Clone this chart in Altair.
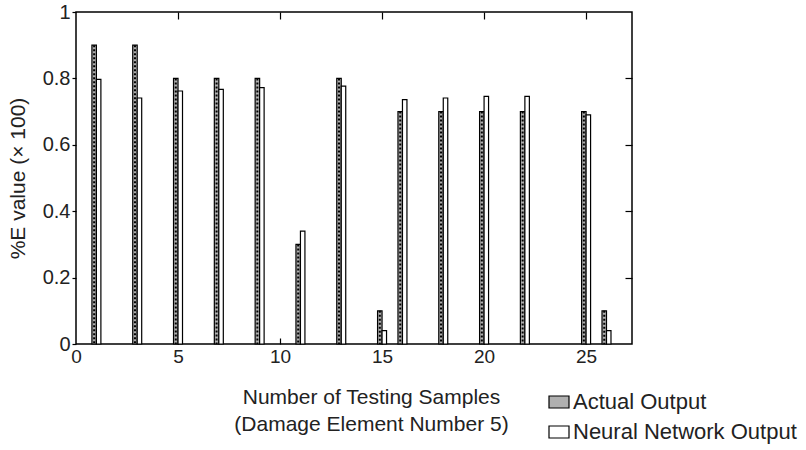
import altair as alt
import pandas as pd

# ---- data ----
samples = [1, 3, 5, 7, 9, 11, 13, 15, 16, 18, 20, 22, 25, 26]
actual_output = [0.9, 0.9, 0.8, 0.8, 0.8, 0.3, 0.8, 0.1, 0.7, 0.7, 0.7, 0.7, 0.7, 0.1]
nn_output = [0.797, 0.741, 0.762, 0.767, 0.772, 0.340, 0.777, 0.040,
             0.736, 0.741, 0.746, 0.746, 0.690, 0.040]
series_names = ["Actual Output", "Neural Network Output"]
x_tick_values = [0, 5, 10, 15, 20, 25]
y_tick_values = [0, 0.2, 0.4, 0.6, 0.8, 1]

n = len(samples)
df = pd.DataFrame({
    "sample": samples + samples,
    "value": actual_output + nn_output,
    "series": [series_names[0]] * n + [series_names[1]] * n,
})

FONT = "Liberation Sans"
TXT = "#222222"
BW = 0.22

xscale = alt.Scale(domain=[0, 27.25], nice=False, zero=False)
yscale = alt.Scale(domain=[0, 1], nice=False)
fill_scale = alt.Scale(domain=series_names, range=["#b0b0b0", "#ffffff"])

legend = alt.Legend(
    orient="none", legendX=472, legendY=379, title=None,
    symbolType="M-1,-0.6L1,-0.6L1,0.6L-1,0.6Z", symbolSize=400,
    symbolStrokeColor="black", symbolStrokeWidth=1.2, symbolOpacity=1,
    labelFontSize=22, labelFont=FONT, labelColor=TXT, labelOffset=3,
    labelLimit=400, rowPadding=8, padding=0,
)

axis_bottom = alt.Axis(
    orient="bottom", values=x_tick_values, format="d", labelFlush=False,
    labelFontSize=19, labelFont=FONT, labelColor=TXT, labelPadding=3,
    ticks=False, domain=False, grid=False,
    title=["Number of Testing Samples", "(Damage Element Number 5)"],
    titleFont=FONT, titleFontSize=21, titleFontWeight="normal", titleColor=TXT,
    titleX=295, titleY=59, titleAlign="center", titleBaseline="alphabetic",
    titleLineHeight=27,
)
axis_left = alt.Axis(
    orient="left", values=y_tick_values, format="~g", labelFlush=False,
    labelFontSize=20, labelFont=FONT, labelColor=TXT, labelPadding=2,
    tickSize=4, tickColor="black", tickWidth=1.2, domain=False, grid=False,
    title="%E value (× 100)", titleFont=FONT, titleFontSize=21,
    titleFontWeight="normal", titleColor=TXT,
    titleX=-58, titleY=166, titleAlign="center", titleBaseline="middle",
)
axis_top = alt.Axis(
    orient="top", values=[5, 10, 15, 20, 25], labels=False, tickSize=7,
    offset=-7, domain=False, grid=False, title=None, tickColor="black", tickWidth=1.2,
)
axis_right = alt.Axis(
    orient="right", values=[0.2, 0.4, 0.6, 0.8], labels=False, tickSize=7,
    offset=-7, domain=False, grid=False, title=None, tickColor="black", tickWidth=1.2,
)
axis_bottom_ticks = alt.Axis(
    orient="bottom", values=[5, 10, 15, 20, 25], labels=False, tickSize=6,
    offset=-6, domain=False, grid=False, title=None, tickColor="black", tickWidth=1.2,
)

base = alt.Chart(df)

actual_bars = base.transform_filter(
    alt.datum.series == series_names[0]
).transform_calculate(
    x0=f"datum.sample - {BW}", x1="datum.sample"
).mark_bar(stroke="black", strokeWidth=1.2).encode(
    x=alt.X("x0:Q", scale=xscale, axis=axis_bottom),
    x2="x1:Q",
    y=alt.Y("value:Q", scale=yscale, axis=axis_left),
    y2=alt.datum(0),
    fill=alt.Fill("series:N", scale=fill_scale, legend=legend),
)

nn_bars = base.transform_filter(
    alt.datum.series == series_names[1]
).transform_calculate(
    x0="datum.sample", x1=f"datum.sample + {BW}"
).mark_bar(stroke="black", strokeWidth=1.2).encode(
    x=alt.X("x0:Q", scale=xscale, axis=axis_top),
    x2="x1:Q",
    y=alt.Y("value:Q", scale=yscale, axis=axis_right),
    y2=alt.datum(0),
    fill=alt.Fill("series:N", scale=fill_scale, legend=legend),
)

hatch = base.transform_filter(
    alt.datum.series == series_names[0]
).transform_calculate(
    xc=f"datum.sample - {BW / 2}"
).mark_rule(color="black", strokeWidth=2, strokeDash=[2, 2]).encode(
    x=alt.X("xc:Q", scale=xscale, axis=axis_bottom_ticks),
    y=alt.Y("value:Q", scale=yscale, axis=None),
    y2=alt.datum(0),
)

chart = alt.layer(actual_bars, nn_bars, hatch).resolve_axis(
    x="independent", y="independent"
).properties(
    width=556, height=332,
    autosize=alt.AutoSizeParams(type="none"),
    padding={"left": 76, "top": 12, "right": 174, "bottom": 106},
    background="white",
).configure_view(stroke="black", strokeWidth=1.5)

chart.save("out.html", embed_options={"renderer": "svg", "actions": False})
